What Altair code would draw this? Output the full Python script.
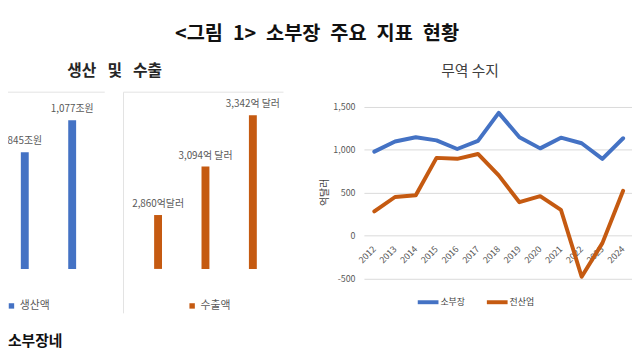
import altair as alt
import pandas as pd

# ---------------- data ----------------
prod_years = ["2019", "2023"]
prod_values = [845, 1077]
prod_labels = ["845조원", "1,077조원"]
prod_series = ["생산액", "생산액"]

exp_years = ["2012", "2019", "2023"]
exp_values = [2860, 3094, 3342]
exp_labels = ["2,860억달러", "3,094억 달러", "3,342억 달러"]
exp_series = ["수출액", "수출액", "수출액"]

trade_years = ["2012", "2013", "2014", "2015", "2016", "2017", "2018",
               "2019", "2020", "2021", "2022", "2023", "2024"]
sobujang = [977, 1095, 1145, 1108, 1008, 1103, 1429, 1145, 1015, 1140, 1075, 893, 1133]
all_industry = [279, 448, 468, 904, 893, 950, 700, 387, 458, 299, -482, -90, 521]
line_series = ["소부장", "전산업"]
trade_ticks = [-500, 0, 500, 1000, 1500]

main_title = "<그림\u20021>\u2002소부장\u2002주요\u2002지표\u2002현황"
sub_left = "생산\u2002\u2009및\u2002\u2009수출"
sub_right = "무역 수지"
y_title = "억달러"
footer_text = "소부장네"

BLUE = "#4472C4"
ORANGE = "#C55A11"
GRID = "#D9D9D9"
LABEL = "#595959"
FONT = "Noto Sans CJK KR"

one = pd.DataFrame({"k": [0]})

# ---------------- decorations ----------------
def txt(text, x, y, size, color="#262626", weight="normal", align="center"):
    return alt.Chart(one).mark_text(
        text=text, fontSize=size, fontWeight=weight, color=color,
        align=align, baseline="middle", font=FONT
    ).encode(x=alt.value(x), y=alt.value(y))

def rule(x, x2, y, y2):
    return alt.Chart(one).mark_rule(color="#E3E3E3", strokeWidth=1).encode(
        x=alt.value(x), x2=alt.value(x2), y=alt.value(y), y2=alt.value(y2))

deco = [
    txt(main_title, 313, 24, 20, "#111111", "bold"),
    txt(sub_left, 108, 62, 16, "#262626", "bold"),
    txt(sub_right, 468, 62, 15, "#404040"),
    txt(footer_text, 0, 335, 15, "#111111", "bold", "left"),
    rule(0, 98, 83, 83),
    rule(117, 279, 83, 83),
    rule(117, 117, 83, 307),
]

# ---------------- panel 1: production ----------------
df1 = pd.DataFrame({"year": prod_years, "value": prod_values,
                    "label": prod_labels, "series": prod_series})
xs1 = alt.Scale(type="band", domain=prod_years, range=[-7, 89], paddingInner=0, paddingOuter=0)
ys1 = alt.Scale(domain=[0, 1200], range=[262, 94.1], nice=False, zero=False)
bars1 = alt.Chart(df1).mark_bar(size=8).encode(
    x=alt.X("year:N", scale=xs1, axis=alt.Axis(
        orient="bottom", offset=-90, title=None, ticks=False, domain=True,
        domainColor=GRID, labelAngle=0, labelPadding=8, labelFontSize=9,
        labelColor=LABEL, grid=False, zindex=0)),
    y=alt.Y("value:Q", scale=ys1, axis=None),
    y2=alt.datum(0),
    color=alt.Color("series:N", scale=alt.Scale(domain=[prod_series[0]], range=[BLUE]),
                    legend=alt.Legend(orient="none", legendX=-2, legendY=294, title=None,
                                      symbolType="square", symbolSize=30, labelFontSize=11,
                                      labelColor=LABEL, labelOffset=3, padding=0)),
)
text1 = alt.Chart(df1).mark_text(dy=-11, fontSize=10, color=LABEL, baseline="middle").encode(
    x=alt.X("year:N", scale=xs1, axis=None),
    y=alt.Y("value:Q", scale=ys1, axis=None),
    text="label:N",
)
panel1 = alt.layer(bars1, text1)

# ---------------- panel 2: exports ----------------
df2 = pd.DataFrame({"year": exp_years, "value": exp_values,
                    "label": exp_labels, "series": exp_series})
xs2 = alt.Scale(type="band", domain=exp_years, range=[128, 272], paddingInner=0, paddingOuter=0)
ys2 = alt.Scale(domain=[2600, 3400], range=[262, 94.1], nice=False, zero=False)
bars2 = alt.Chart(df2).mark_bar(size=8).encode(
    x=alt.X("year:N", scale=xs2, axis=alt.Axis(
        orient="bottom", offset=-90, title=None, ticks=False, domain=True,
        domainColor=GRID, labelAngle=0, labelPadding=8, labelFontSize=9,
        labelColor=LABEL, grid=False, zindex=0)),
    y=alt.Y("value:Q", scale=ys2, axis=None),
    y2=alt.datum(2600),
    color=alt.Color("series:N", scale=alt.Scale(domain=[exp_series[0]], range=[ORANGE]),
                    legend=alt.Legend(orient="none", legendX=181, legendY=294, title=None,
                                      symbolType="square", symbolSize=30, labelFontSize=11,
                                      labelColor=LABEL, labelOffset=3, padding=0)),
)
text2 = alt.Chart(df2).mark_text(dy=-11, fontSize=10, color=LABEL, baseline="middle").encode(
    x=alt.X("year:N", scale=xs2, axis=None),
    y=alt.Y("value:Q", scale=ys2, axis=None),
    text="label:N",
)
panel2 = alt.layer(bars2, text2)

# ---------------- panel 3: trade balance ----------------
df3 = pd.DataFrame({
    "year": trade_years + trade_years,
    "value": sobujang + all_industry,
    "series": [line_series[0]] * len(trade_years) + [line_series[1]] * len(trade_years),
})
panel3 = alt.Chart(df3).mark_line(strokeWidth=4, strokeJoin="round", strokeCap="round").encode(
    x=alt.X("year:N", scale=alt.Scale(type="band", domain=trade_years, range=[360.5, 633.5],
                                      paddingInner=0, paddingOuter=0),
            axis=alt.Axis(orient="bottom", offset=-123.9, title=None, ticks=False, domain=False,
                          labelAngle=-45, labelAlign="right", labelBaseline="middle",
                          labelPadding=12, labelFontSize=9, labelColor=LABEL,
                          labelOverlap=False, grid=False, zindex=0)),
    y=alt.Y("value:Q", scale=alt.Scale(domain=[-500, 1500], range=[271.5, 97.8], nice=False, zero=False),
            axis=alt.Axis(orient="left", offset=-360.5, values=trade_ticks,
                          labelExpr="replace(format(datum.value, ','), '\u2212', '-')",
                          ticks=False, domain=False, grid=True, gridColor=GRID, gridWidth=1,
                          labelPadding=9, labelFontSize=9, labelColor=LABEL,
                          title=y_title, titleFontSize=10, titleFontWeight="normal",
                          titleColor="#404040", titleX=-40, titleY=184,
                          titleBaseline="middle", titleAngle=270, zindex=0)),
    color=alt.Color("series:N", scale=alt.Scale(domain=line_series, range=[BLUE, ORANGE]),
                    legend=alt.Legend(orient="none", legendX=413, legendY=283, direction="horizontal",
                                      title=None, symbolType="stroke", symbolStrokeWidth=4,
                                      symbolSize=441, labelFontSize=9, labelColor="#404040",
                                      labelOffset=0, columnPadding=14, padding=0)),
)

chart = alt.layer(*deco, panel1, panel2, panel3).resolve_scale(
    x="independent", y="independent", color="independent"
).properties(
    width=632, height=352, padding=0,
    autosize=alt.AutoSizeParams(type="none"),
).configure(font=FONT).configure_view(stroke=None)

chart.save("out.html", embed_options={"renderer": "svg", "actions": False})
